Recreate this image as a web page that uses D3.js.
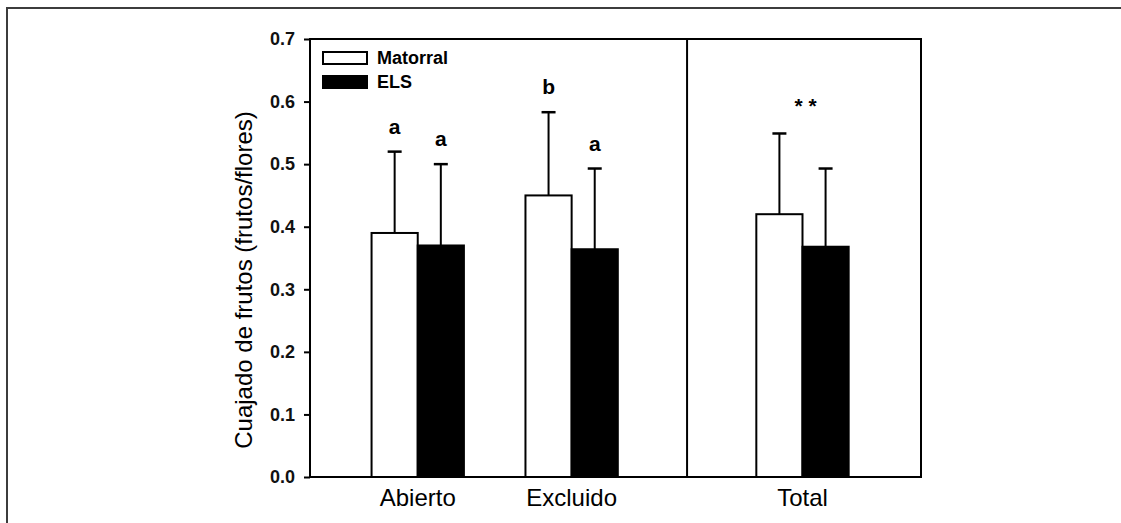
<!DOCTYPE html>
<html>
<head>
<meta charset="utf-8">
<script src="https://cdn.jsdelivr.net/npm/d3@7"></script>
<style>
  body { margin: 0; background: #fff; }
  text { font-family: "Liberation Sans", Arial, sans-serif; }
</style>
</head>
<body>
<script>
// groups on the x axis (Total is set apart behind a divider)
var groups = ["Abierto", "Excluido", "Total"]
var groupPos = [1, 2, 3.5]
var series = ["Matorral", "ELS"]
var seriesFill = ["#ffffff", "#000000"]

// means and upper error (mean + sd)
var matorralMean = [0.39, 0.45, 0.42]
var matorralTop  = [0.52, 0.583, 0.549]
var elsMean      = [0.37, 0.364, 0.368]
var elsTop       = [0.50, 0.493, 0.493]

// significance letters over each bar ("" = none)
var matorralLetters = ["a", "b", ""]
var elsLetters      = ["a", "a", ""]
var groupMarks      = ["", "", "* *"]

var yTicks = [0, 0.1, 0.2, 0.3, 0.4, 0.5, 0.6, 0.7]

var screen = {width: 1121, height: 523}
var margins = {top: 39, left: 310, right: 200, bottom: 46}
var width = screen.width - margins.left - margins.right
var height = screen.height - margins.top - margins.bottom

var xScale = d3.scaleLinear().domain([0.3, 4.27]).range([0, width])
var yScale = d3.scaleLinear().domain([0, 0.7]).range([height, 0])
var barW = xScale(0.3) - xScale(0)

var svg = d3.select("body").append("svg")
  .attr("width", screen.width)
  .attr("height", screen.height)

// outer page frame (only top and left show)
svg.append("path")
  .attr("d", "M7,523 L7,8 L1121,8")
  .attr("fill", "none")
  .attr("stroke", "#3c3c3c")
  .attr("stroke-width", 2)

var g = svg.append("g")
  .attr("transform", "translate(" + margins.left + "," + margins.top + ")")

// build one record per bar
var bars = []
groups.forEach(function(name, i) {
  bars.push({g: i, s: 0, mean: matorralMean[i], top: matorralTop[i], letter: matorralLetters[i]})
  bars.push({g: i, s: 1, mean: elsMean[i], top: elsTop[i], letter: elsLetters[i]})
})
function barX(d) { return d.s == 0 ? xScale(groupPos[d.g]) - barW : xScale(groupPos[d.g]) }

// error bars (drawn first so the bars sit on top)
g.selectAll(".err")
  .data(bars)
  .enter()
  .append("line")
  .attr("x1", function(d) { return barX(d) + barW / 2 })
  .attr("x2", function(d) { return barX(d) + barW / 2 })
  .attr("y1", function(d) { return yScale(d.mean) })
  .attr("y2", function(d) { return yScale(d.top) })
  .attr("stroke", "#000")
  .attr("stroke-width", 2)

g.selectAll(".cap")
  .data(bars)
  .enter()
  .append("line")
  .attr("x1", function(d) { return barX(d) + barW / 2 - 7 })
  .attr("x2", function(d) { return barX(d) + barW / 2 + 7 })
  .attr("y1", function(d) { return yScale(d.top) })
  .attr("y2", function(d) { return yScale(d.top) })
  .attr("stroke", "#000")
  .attr("stroke-width", 2.5)

g.selectAll(".bar")
  .data(bars)
  .enter()
  .append("rect")
  .attr("x", barX)
  .attr("y", function(d) { return yScale(d.mean) })
  .attr("width", barW)
  .attr("height", function(d) { return height - yScale(d.mean) })
  .attr("fill", function(d) { return seriesFill[d.s] })
  .attr("stroke", "#000")
  .attr("stroke-width", 2)

// letters
g.selectAll(".letter")
  .data(bars.filter(function(d) { return d.letter != "" }))
  .enter()
  .append("text")
  .attr("x", function(d) { return barX(d) + barW / 2 })
  .attr("y", function(d) { return yScale(d.top) - 18 })
  .attr("text-anchor", "middle")
  .style("font-size", "21px")
  .style("font-weight", "bold")
  .text(function(d) { return d.letter })

groups.forEach(function(name, i) {
  if (groupMarks[i] == "") return
  g.append("text")
    .attr("x", xScale(groupPos[i]) + 3)
    .attr("y", yScale(Math.max(matorralTop[i], elsTop[i])) - 20)
    .attr("text-anchor", "middle")
    .style("font-size", "21px")
    .style("font-weight", "bold")
    .text(groupMarks[i])
})

// plot frame + divider
g.append("rect")
  .attr("width", width)
  .attr("height", height)
  .attr("fill", "none")
  .attr("stroke", "#000")
  .attr("stroke-width", 2)

g.append("line")
  .attr("x1", xScale(2.75)).attr("x2", xScale(2.75))
  .attr("y1", 0).attr("y2", height)
  .attr("stroke", "#000")
  .attr("stroke-width", 2)

// y axis
var yAxis = d3.axisLeft(yScale).tickValues(yTicks).tickFormat(d3.format(".1f")).tickSize(6).tickPadding(9)
var ya = g.append("g").call(yAxis)
ya.select(".domain").remove()
ya.selectAll("line").attr("stroke-width", 2)
ya.selectAll("text")
  .style("font-size", "18px")
  .style("font-weight", "bold")
  .style("font-family", "'Liberation Sans', Arial, sans-serif")
  .attr("fill", "#111")

// x labels
g.selectAll(".xlab")
  .data(groups)
  .enter()
  .append("text")
  .attr("x", function(d, i) { return xScale(groupPos[i]) })
  .attr("y", height + 29)
  .attr("text-anchor", "middle")
  .style("font-size", "24px")
  .text(function(d) { return d })

svg.append("text")
  .attr("transform", "translate(252,280) rotate(-90)")
  .attr("text-anchor", "middle")
  .style("font-size", "24px")
  .text("Cuajado de frutos (frutos/flores)")

// legend
var legend = svg.append("g").attr("transform", "translate(323,52)")
var lg = legend.selectAll("g")
  .data(series)
  .enter()
  .append("g")
  .attr("transform", function(d, i) { return "translate(0," + (i * 24) + ")" })
lg.append("rect")
  .attr("width", 44)
  .attr("height", 12)
  .attr("fill", function(d, i) { return seriesFill[i] })
  .attr("stroke", "#000")
  .attr("stroke-width", 2)
lg.append("text")
  .attr("x", 54)
  .attr("y", 12)
  .style("font-size", "18px")
  .style("font-weight", "bold")
  .text(function(d) { return d })
</script>
</body>
</html>
